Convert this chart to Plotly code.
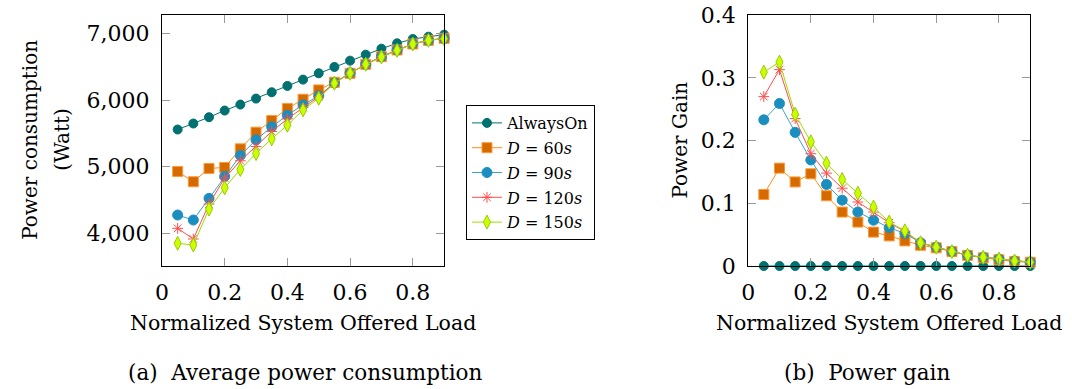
import plotly.graph_objects as go

load = [0.05, 0.1, 0.15, 0.2, 0.25, 0.3, 0.35, 0.4, 0.45, 0.5,
        0.55, 0.6, 0.65, 0.7, 0.75, 0.8, 0.85, 0.9]

# (a) average power consumption in Watt
power_always_on = [5560, 5650, 5745, 5845, 5935, 6025, 6120, 6215, 6310, 6405,
                   6500, 6595, 6685, 6775, 6855, 6920, 6955, 6985]
power_d60 = [4930, 4775, 4975, 4990, 5270, 5520, 5695, 5875, 6015, 6155,
             6270, 6405, 6540, 6655, 6755, 6845, 6900, 6930]
power_d90 = [4275, 4200, 4525, 4855, 5170, 5405, 5600, 5775, 5930, 6065,
             6260, 6410, 6540, 6655, 6755, 6850, 6900, 6930]
power_d120 = [4075, 3915, 4440, 4830, 5090, 5305, 5530, 5720, 5890, 6055,
              6255, 6405, 6540, 6655, 6750, 6845, 6900, 6930]
power_d150 = [3850, 3825, 4365, 4685, 4960, 5200, 5420, 5625, 5855, 6030,
              6255, 6405, 6540, 6650, 6750, 6845, 6900, 6925]

# (b) power gain
gain_always_on = [0] * 18
gain_d60 = [0.114, 0.156, 0.134, 0.147, 0.112, 0.086, 0.070, 0.054, 0.048, 0.040,
            0.033, 0.029, 0.023, 0.017, 0.013, 0.010, 0.007, 0.006]
gain_d90 = [0.233, 0.259, 0.213, 0.169, 0.130, 0.105, 0.086, 0.073, 0.061, 0.052,
            0.037, 0.030, 0.023, 0.017, 0.014, 0.011, 0.008, 0.006]
gain_d120 = [0.270, 0.313, 0.235, 0.179, 0.148, 0.124, 0.102, 0.086, 0.069, 0.055,
             0.037, 0.030, 0.023, 0.017, 0.014, 0.011, 0.008, 0.006]
gain_d150 = [0.309, 0.325, 0.242, 0.198, 0.164, 0.138, 0.116, 0.094, 0.070, 0.056,
             0.037, 0.030, 0.023, 0.017, 0.014, 0.011, 0.008, 0.006]

x_ticks = [0, 0.2, 0.4, 0.6, 0.8]
power_ticks = [4000, 5000, 6000, 7000]
gain_ticks = [0, 0.1, 0.2, 0.3, 0.4]
gain_tick_text = ["0", "0.1", "0.2", "0.3", "0.4"]

names = ["AlwaysOn", "<i>D</i> = 60<i>s</i>", "<i>D</i> = 90<i>s</i>",
         "<i>D</i> = 120<i>s</i>", "<i>D</i> = 150<i>s</i>"]

FONT = "DejaVu Serif"
W, H = 1072, 389
M_T, M_B = 15, 123

# line colour, marker fill, marker edge, symbol, size
styles = [
    ("#007070", "#007070", "#007070", "circle", 9),
    ("#ff8c1a", "#d46a00", "#ff9933", "square", 10),
    ("#3aa3c8", "#1a8fbf", "#1a8fbf", "circle", 10),
    ("#ff4d4d", "#ff4d4d", "#ff4d4d", "asterisk-open", 9),
    ("#99dd00", "#ccff00", "#99cc00", "diamond-tall", 10),
]

fig = go.Figure()
series_a = [power_always_on, power_d60, power_d90, power_d120, power_d150]
series_b = [gain_always_on, gain_d60, gain_d90, gain_d120, gain_d150]

for i, (ya, yb) in enumerate(zip(series_a, series_b)):
    lc, fc, ec, sym, sz = styles[i]
    mk = dict(symbol=sym, size=sz, color=fc, line=dict(color=ec, width=1))
    fig.add_trace(go.Scatter(x=load, y=ya, name=names[i], mode="lines+markers",
                             line=dict(color=lc, width=1), marker=mk,
                             legendgroup=str(i),
                             cliponaxis=False, xaxis="x", yaxis="y"))
    fig.add_trace(go.Scatter(x=load, y=yb, name=names[i], mode="lines+markers",
                             line=dict(color=lc, width=1), marker=mk,
                             legendgroup=str(i),
                             cliponaxis=False, showlegend=False,
                             xaxis="x2", yaxis="y2"))


# page pixel -> paper fraction
def px_x(p):
    return p / W


def px_y(p):
    return 1 - (p - M_T) / (H - M_T - M_B)


axis_common = dict(showline=True, linecolor="black", linewidth=1, mirror="allticks",
                   ticks="inside", ticklen=8, tickcolor="#9a9a9a", tickwidth=1,
                   showgrid=False, zeroline=False, ticklabelstandoff=7,
                   tickfont=dict(family=FONT, size=22, color="black"))

fig.update_layout(
    width=W, height=H,
    margin=dict(l=0, r=0, t=M_T, b=M_B),
    paper_bgcolor="white", plot_bgcolor="white",
    font=dict(family=FONT, color="black"),
    xaxis=dict(domain=[px_x(156), px_x(440)], range=[0, 0.9],
               tickvals=x_ticks, **axis_common),
    yaxis=dict(range=[3509, 7281], tickvals=power_ticks,
               tickformat=",d", **axis_common),
    xaxis2=dict(domain=[px_x(746), px_x(1030)], range=[0, 0.9], anchor="y2",
                tickvals=x_ticks, **axis_common),
    yaxis2=dict(range=[0, 0.4001], anchor="x2", tickvals=gain_ticks,
                ticktext=gain_tick_text, **axis_common),
    legend=dict(x=px_x(462), y=px_y(105), xanchor="left", yanchor="top",
                bordercolor="black", borderwidth=1, bgcolor="white",
                font=dict(family=FONT, size=16, color="black"),
                tracegroupgap=1, itemsizing="trace"),
)

labels = [
    ("Power consumption", 23, 140, -90, 20),
    ("(Watt)", 55, 140, -90, 20),
    ("Power Gain", 677, 140, -90, 20),
    ("Normalized System Offered Load", 298, 323, 0, 20.5),
    ("Normalized System Offered Load", 888, 323, 0, 20.5),
    ("(a)  Average power consumption", 300, 372, 0, 21.5),
    ("(b)  Power gain", 866, 372, 0, 21.5),
]
for text, x, y, ang, sz in labels:
    fig.add_annotation(text=text, x=px_x(x), y=px_y(y), xref="paper", yref="paper",
                       showarrow=False, textangle=ang, xanchor="center", yanchor="middle",
                       font=dict(family=FONT, size=sz, color="black"))

fig.write_html("out.html", config={"displayModeBar": False},
               post_script="document.body.style.margin = '0';")
